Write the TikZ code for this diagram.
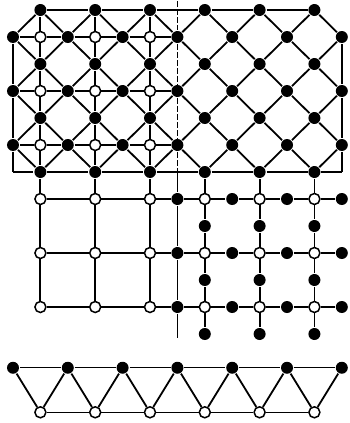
\documentclass[tikz,border=0pt]{standalone}
\usetikzlibrary{positioning}
\begin{document}
\begin{tikzpicture}[x=27.4pt, y=-27pt, line width=1.8pt,
  bdot/.style={circle, fill=black, inner sep=0pt, minimum size=12pt},
  wdot/.style={circle, draw, fill=white, inner sep=0pt, minimum size=11pt, line width=1.5pt}]
\useasboundingbox (-13pt,10pt) rectangle (336pt,-413pt);

% sites of the upper net
\foreach \r in {0,2,4,6} \foreach \c in {1,3,...,11} \node[bdot] (s-\c-\r) at (\c,\r) {};
\foreach \r in {1,3,5} \foreach \c in {0,2,...,12} \node[bdot] (s-\c-\r) at (\c,\r) {};
\foreach \r in {1,3,5} \foreach \c in {1,3,5} \node[wdot] (s-\c-\r) at (\c,\r) {};

% sites of the square net
\foreach \r in {7,9,11} \foreach \c in {1,3,...,11} \node[wdot] (s-\c-\r) at (\c,\r) {};
\foreach \r in {7,9,11} \foreach \c in {6,8,10,12} \node[bdot] (s-\c-\r) at (\c,\r) {};
\foreach \r in {8,10,12} \foreach \c in {7,9,11} \node[bdot] (s-\c-\r) at (\c,\r) {};

\coordinate (bl) at (0,6);
\coordinate (br) at (12,6);
\coordinate (ctop) at (6,-0.33);
\coordinate (cmid) at (6,6);
\coordinate (cbot) at (6,12.15);

% diagonal net
\foreach \r [evaluate=\r as \ru using int(\r-1), evaluate=\r as \rd using int(\r+1)] in {1,3,5} {
  \foreach \c [evaluate=\c as \cr using int(\c+1)] in {0,2,...,10}
    \draw (s-\c-\r) -- (s-\cr-\ru) (s-\c-\r) -- (s-\cr-\rd);
  \foreach \c [evaluate=\c as \cl using int(\c-1)] in {2,4,...,12}
    \draw (s-\c-\r) -- (s-\cl-\ru) (s-\c-\r) -- (s-\cl-\rd);
}

% frame
\draw (s-1-0) -- (s-3-0) -- (s-5-0) -- (s-7-0) -- (s-9-0) -- (s-11-0);
\draw (s-0-1) -- (s-0-3) -- (s-0-5) -- (bl);
\draw (s-12-1) -- (s-12-3) -- (s-12-5) -- (br);
\draw (bl) -- (s-1-6) -- (s-3-6) -- (s-5-6) -- (s-7-6) -- (s-9-6) -- (s-11-6) -- (br);

% square lines
\foreach \r in {1,3,5}
  \draw (s-0-\r) -- (s-1-\r) -- (s-2-\r) -- (s-3-\r) -- (s-4-\r) -- (s-5-\r) -- (s-6-\r);
\foreach \c in {1,3,5}
  \draw (s-\c-0) -- (s-\c-1) -- (s-\c-2) -- (s-\c-3) -- (s-\c-4) -- (s-\c-5) -- (s-\c-6)
    -- (s-\c-7) -- (s-\c-9) -- (s-\c-11);
\foreach \r in {7,9,11}
  \draw (s-1-\r) -- (s-3-\r) -- (s-5-\r) -- (s-6-\r) -- (s-7-\r) -- (s-8-\r) -- (s-9-\r)
    -- (s-10-\r) -- (s-11-\r) -- (s-12-\r);
\foreach \c in {7,9,11}
  \draw (s-\c-6) -- (s-\c-7) -- (s-\c-8) -- (s-\c-9) -- (s-\c-10) -- (s-\c-11) -- (s-\c-12);

% thin divider
\draw[line width=0.8pt, dash pattern=on 6pt off 2pt] (ctop) -- (s-6-1) -- (s-6-3) -- (s-6-5) -- (cmid);
\draw[line width=0.8pt] (cmid) -- (s-6-7) -- (s-6-9) -- (s-6-11) -- (cbot);

% chain at the bottom
\foreach \i in {0,...,6} \node[bdot] (t-\i) at (2*\i,13.25) {};
\foreach \i in {0,...,5} \node[wdot] (u-\i) at (2*\i+1,14.9) {};
\draw[line width=1.4pt] (t-0) -- (t-1) -- (t-2) -- (t-3) -- (t-4) -- (t-5) -- (t-6);
\draw[line width=1.4pt] (u-0) -- (u-1) -- (u-2) -- (u-3) -- (u-4) -- (u-5);
\foreach \i [evaluate=\i as \j using int(\i+1)] in {0,...,5}
  \draw (t-\i) -- (u-\i) -- (t-\j);
\end{tikzpicture}
\end{document}
